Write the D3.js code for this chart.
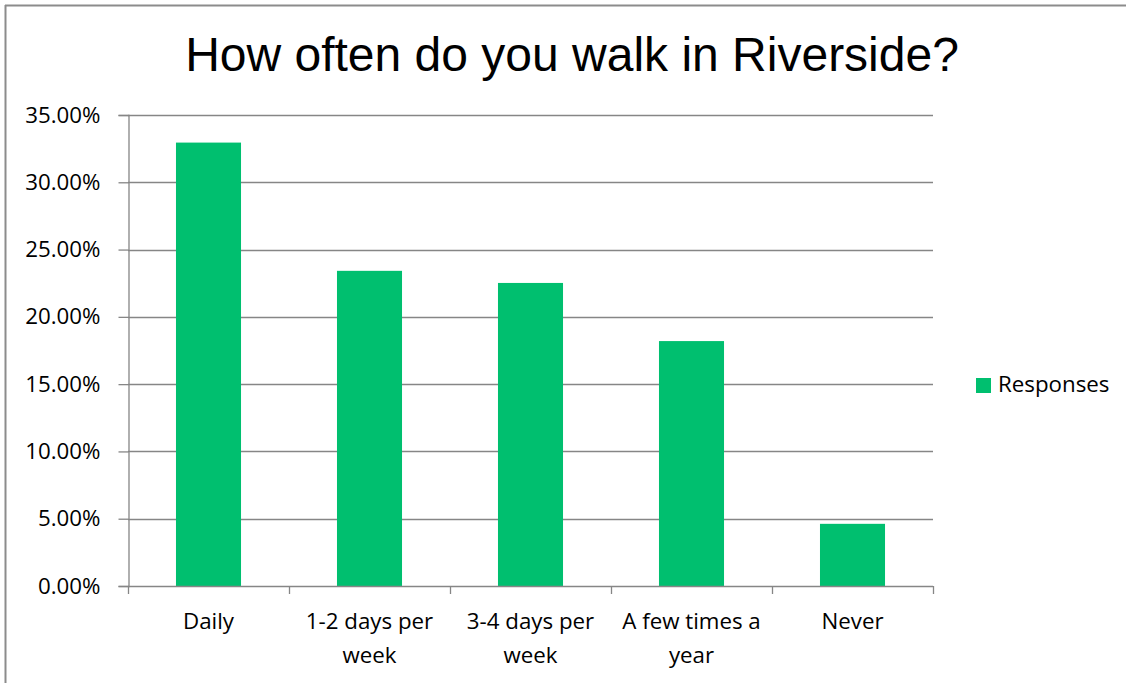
<!DOCTYPE html>
<html><head><meta charset="utf-8">
<script src="https://cdn.jsdelivr.net/npm/d3@7"></script>
<style>
body{margin:0;background:#fff;}
svg{display:block;}
</style></head>
<body>
<svg id="chart" width="1126" height="683"></svg>
<script>
const title = "How often do you walk in Riverside?";
const categories = [["Daily"], ["1-2 days per", "week"], ["3-4 days per", "week"], ["A few times a", "year"], ["Never"]];
const values = [0.3295, 0.2342, 0.2252, 0.1820, 0.0462];
const yTicks = [0, 0.05, 0.10, 0.15, 0.20, 0.25, 0.30, 0.35];
const seriesName = "Responses";

(function(){
const svg = d3.select("#chart");
const labelFont = "'Open Sans', sans-serif";
const labelSize = 22.3;
const axisColor = "#868686";
const barColor = "#00BF6F";

// outer frame
svg.append("line").attr("x1",5).attr("x2",1126).attr("y1",5.5).attr("y2",5.5).attr("stroke","#8c8c8c").attr("stroke-width",2);
svg.append("line").attr("x1",5.5).attr("x2",5.5).attr("y1",5).attr("y2",683).attr("stroke","#8c8c8c").attr("stroke-width",2);

const pLeft = 128, pRight = 933, pTop = 115, pBottom = 586;
const x = d3.scaleBand().domain(d3.range(categories.length)).range([pLeft, pRight]).paddingInner(0.596).paddingOuter(0.298);
const y = d3.scaleLinear().domain([0, 0.35]).range([pBottom, pTop]);

// gridlines
svg.append("g").selectAll("line").data(yTicks.slice(1)).join("line")
  .attr("x1", pLeft).attr("x2", pRight)
  .attr("y1", d => Math.round(y(d)) + 0.5).attr("y2", d => Math.round(y(d)) + 0.5)
  .attr("stroke", axisColor).attr("stroke-width", 1.3);

// y axis
const yAxis = d3.axisLeft(y).tickValues(yTicks).tickSize(10).tickPadding(18)
  .tickFormat(d => (d*100).toFixed(2) + "%");
const gy = svg.append("g").attr("transform", `translate(${pLeft + 0.5},0)`).call(yAxis);
gy.select(".domain").attr("stroke", axisColor).attr("stroke-width", 1.3);
gy.selectAll(".tick line").attr("stroke", axisColor).attr("stroke-width", 1.3);
gy.selectAll(".tick text").attr("font-family", labelFont).attr("font-size", labelSize).attr("fill", "#000");

// bars
svg.append("g").selectAll("rect").data(values).join("rect")
  .attr("x", (d,i) => x(i)).attr("width", x.bandwidth())
  .attr("y", d => y(d)).attr("height", d => y(0) - y(d))
  .attr("fill", barColor);

// x axis
const boundaries = d3.range(categories.length + 1).map(i => pLeft + i * x.step());
svg.append("line").attr("x1", pLeft).attr("x2", pRight).attr("y1", pBottom + 0.5).attr("y2", pBottom + 0.5)
  .attr("stroke", axisColor).attr("stroke-width", 1.3);
svg.append("g").selectAll("line").data(boundaries).join("line")
  .attr("x1", d => Math.round(d) + 0.5).attr("x2", d => Math.round(d) + 0.5)
  .attr("y1", pBottom).attr("y2", pBottom + 8)
  .attr("stroke", axisColor).attr("stroke-width", 1.3);

const xl = svg.append("g").selectAll("text").data(categories).join("text")
  .attr("x", (d,i) => x(i) + x.bandwidth()/2).attr("y", 629)
  .attr("text-anchor", "middle").attr("font-family", labelFont).attr("font-size", labelSize).attr("fill", "#000");
xl.each(function(lines){
  const tx = d3.select(this).attr("x");
  d3.select(this).selectAll("tspan").data(lines).join("tspan")
    .attr("x", tx).attr("dy", (d,j) => j === 0 ? 0 : 34).text(d => d);
});

// title
svg.append("text").attr("x", 572).attr("y", 71).attr("text-anchor", "middle")
  .attr("font-family", "'Liberation Sans', Arial, sans-serif").attr("font-size", 48).attr("fill", "#000").text(title);

// legend
svg.append("rect").attr("x", 976).attr("y", 378).attr("width", 15).attr("height", 15).attr("fill", barColor);
svg.append("text").attr("x", 998).attr("y", 392).attr("font-family", labelFont).attr("font-size", labelSize).attr("fill", "#000").text(seriesName);
})();
</script>
</body></html>
